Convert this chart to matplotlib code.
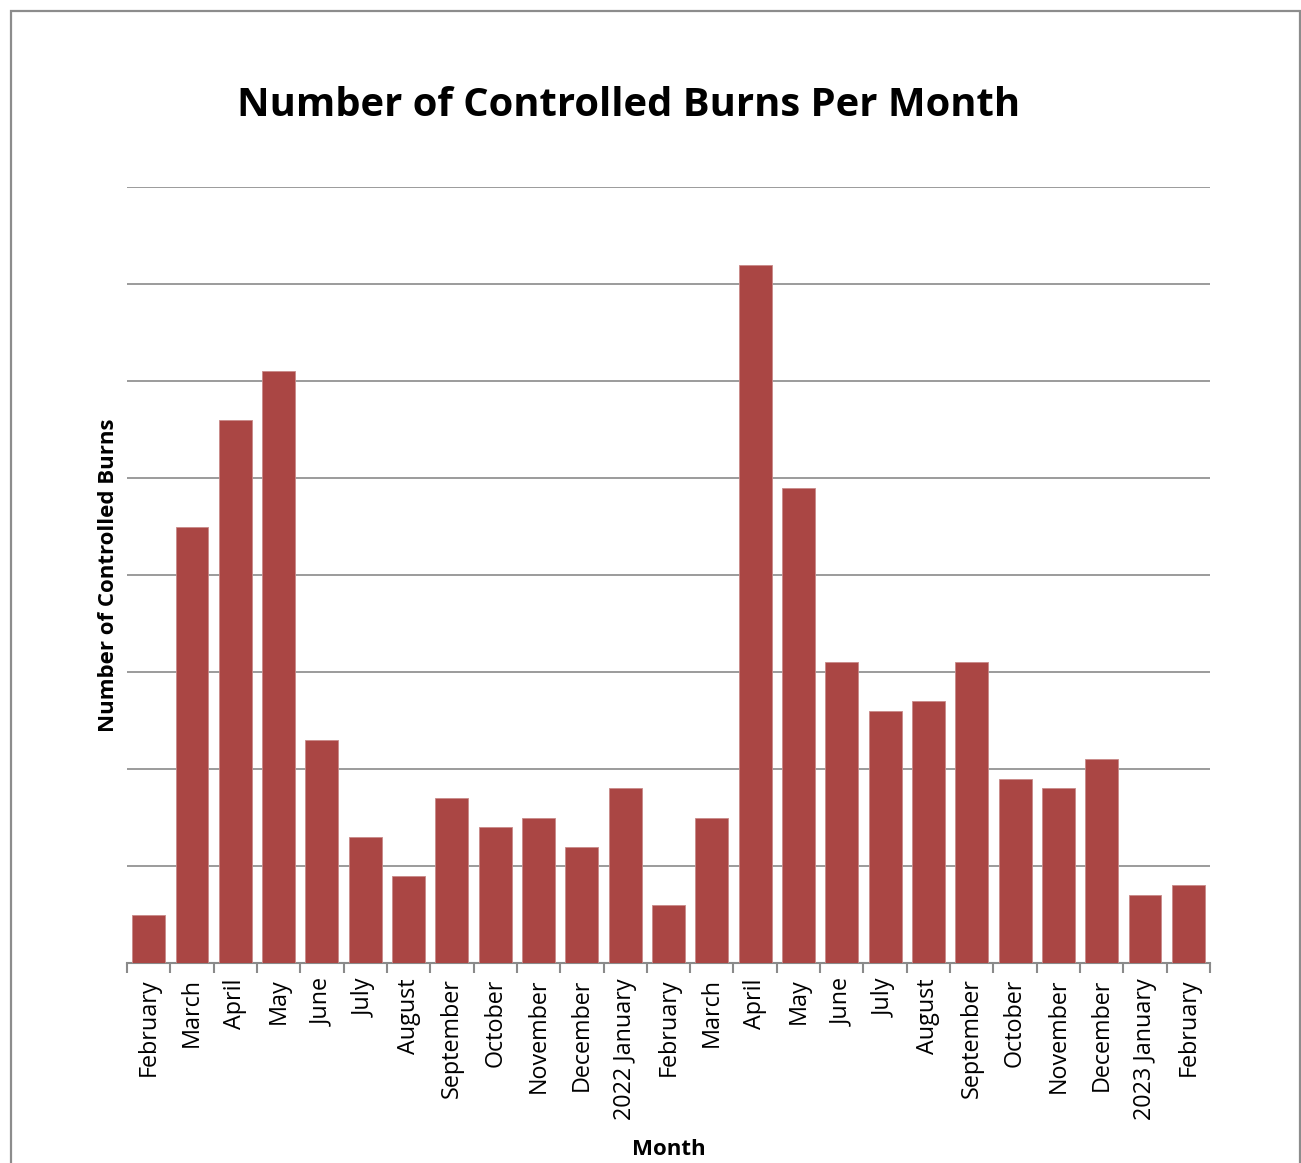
import matplotlib
matplotlib.use("Agg")
import matplotlib.pyplot as plt
from matplotlib.patches import Rectangle

# ── Data ──────────────────────────────────────────────────────────────────────
months = ["February", "March", "April", "May", "June", "July", "August",
          "September", "October", "November", "December", "2022 January",
          "February", "March", "April", "May", "June", "July", "August",
          "September", "October", "November", "December", "2023 January",
          "February"]
burns = [5, 45, 56, 61, 23, 13, 9, 17, 14, 15, 12, 18,
         6, 15, 72, 49, 31, 26, 27, 31, 19, 18, 21, 7, 8]
y_max = 80
grid_step = 10

# ── Plot ──────────────────────────────────────────────────────────────────────
plt.rcParams["font.family"] = ["Open Sans", "DejaVu Sans"]
bar_color = "#AA4644"
grid_color = "#8A8A8A"

fig = plt.figure(figsize=(13.01, 11.63), dpi=100)
ax = fig.add_axes([127 / 1301, 200 / 1163, 1083 / 1301, 776 / 1163])

x = list(range(len(months)))
ax.bar(x, burns, width=0.76, color=bar_color, edgecolor="#C98A88",
       linewidth=0.6, zorder=3)

ax.set_xlim(-0.5, len(months) - 0.5)
ax.set_ylim(0, y_max)
ax.set_yticks(range(grid_step, y_max + 1, grid_step))
ax.set_yticklabels([])
ax.tick_params(axis="y", length=0)
ax.grid(axis="y", color=grid_color, linewidth=1.2, zorder=0)

ax.set_xticks(x)
ax.set_xticklabels(months, rotation=90, fontsize=16.8)
ax.tick_params(axis="x", which="major", length=0, pad=11)
ax.set_xticks([i - 0.5 for i in range(len(months) + 1)], minor=True)
ax.tick_params(axis="x", which="minor", length=7, width=1.5, color=grid_color)

for side in ("top", "right", "left"):
    ax.spines[side].set_visible(False)
ax.spines["bottom"].set_color(grid_color)
ax.spines["bottom"].set_linewidth(1.5)

ax.set_xlabel("Month", fontsize=16, fontweight="bold", labelpad=14)
ax.set_ylabel("Number of Controlled Burns", fontsize=16, fontweight="bold",
              labelpad=2)
fig.text(629 / 1301, 1 - 106 / 1163, "Number of Controlled Burns Per Month",
         ha="center", va="center", fontsize=28.8, fontweight="bold")

# outer chart frame
fig.patches.append(Rectangle((11 / 1301, -0.02), 1289 / 1301, 1 - 11 / 1163 + 0.02,
                             transform=fig.transFigure, fill=False,
                             edgecolor="#8C8C8C", linewidth=1.6))

fig.savefig("out.png", dpi=100)
